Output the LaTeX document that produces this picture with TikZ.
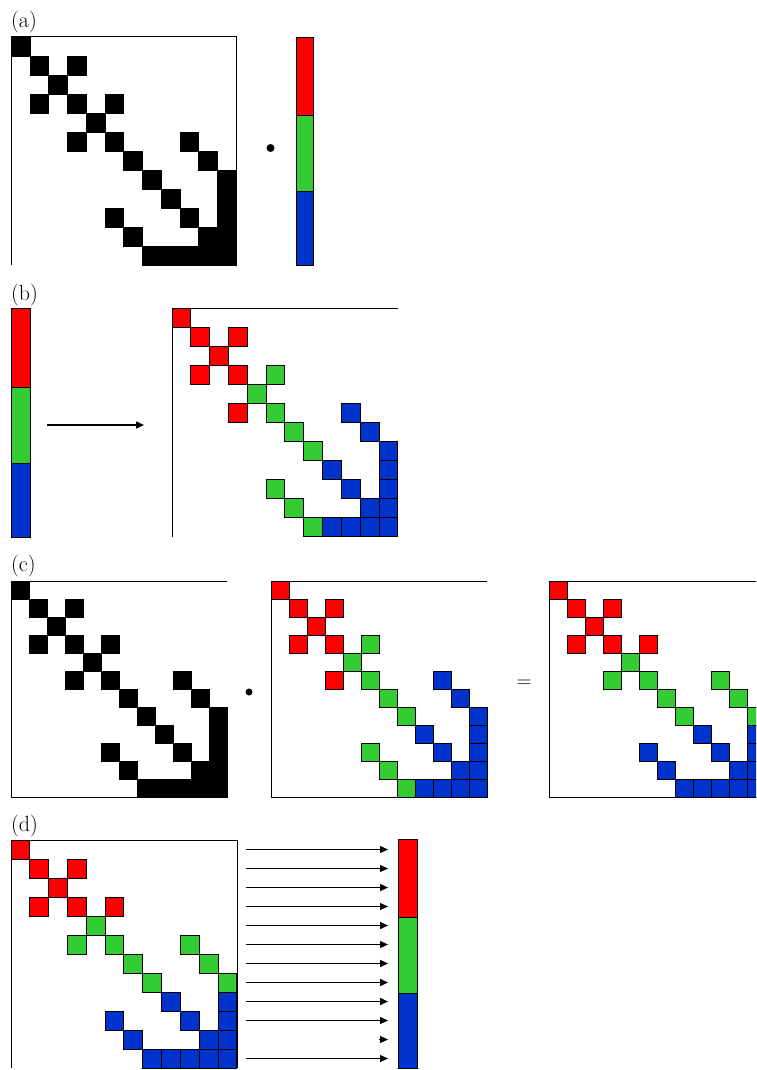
\documentclass[tikz,border=0pt]{standalone}
\usetikzlibrary{arrows.meta}
\definecolor{grp0}{RGB}{255,0,0}
\definecolor{grp1}{RGB}{51,204,51}
\definecolor{grp2}{RGB}{0,51,204}
\def\entries{0/0,1/1,1/3,2/2,3/1,3/3,3/5,4/4,5/3,5/5,5/9,6/6,6/10,7/7,7/11,8/8,8/11,9/5,9/9,9/11,10/6,10/10,10/11,11/7,11/8,11/9,11/10,11/11}
% #1 x0, #2 y0, #3 cell width, #4 cell height, #5 mode: 0 black, 1 by column, 2 by row
\newcommand\spmat[5]{%
  \foreach \r/\c in \entries {%
    \pgfmathtruncatemacro\g{#5==1 ? floor(\c/4) : (#5==2 ? floor(\r/4) : 3)}%
    \ifnum\g=3
      \path[fill=black,draw=black,line width=0.3pt] (#1+\c*#3,#2+\r*#4) rectangle ++(#3,#4);
    \else
      \path[fill=grp\g,draw=black,line width=1pt] (#1+\c*#3,#2+\r*#4) rectangle ++(#3,#4);
    \fi
  }}
\begin{document}
\begin{tikzpicture}[x=1pt,y=-1pt,
  lab/.style={font=\fontsize{22}{26}\selectfont, inner sep=0pt, anchor=base west},
  frame/.style={line width=1pt},
  vseg/.style={draw=black, line width=0.5pt, inner sep=0pt, minimum width=#1},
  arr/.style={-{Triangle[length=8pt,width=7pt]}},
  dot/.style={circle, fill=black, inner sep=0pt}]
\useasboundingbox[fill=white] (0,0) rectangle (756,1070);

% ---------- (a)
\node[lab] (la) at (11,27.5) {(a)};
\spmat{11}{37}{18.75}{19}{0}
\draw[frame] (11,265) -- (11,37) -- (236,37) -- (236,265);
\node[dot, minimum size=8pt] (dota) at (270.5,148) {};
\node[vseg=17pt, fill=grp0, minimum height=78pt] (va1) at (304.5,76) {};
\node[vseg=17pt, fill=grp1, minimum height=76pt] (va2) at (304.5,153) {};
\node[vseg=17pt, fill=grp2, minimum height=74pt] (va3) at (304.5,228) {};

% ---------- (b)
\node[lab] (lb) at (11,300.5) {(b)};
\node[vseg=19pt, fill=grp0, minimum height=79pt] (vb1) at (20.5,347.5) {};
\node[vseg=19pt, fill=grp1, minimum height=76pt] (vb2) at (20.5,425) {};
\node[vseg=19pt, fill=grp2, minimum height=74pt] (vb3) at (20.5,500) {};
\coordinate (bs) at (47,425);
\coordinate (be) at (144,425);
\draw[arr, line width=1.5pt] (bs) -- (be);
\spmat{172}{308}{18.83}{19.08}{1}
\draw[frame] (172,537) -- (172,308) -- (398,308);

% ---------- (c)
\node[lab] (lc) at (11,571.5) {(c)};
\spmat{11}{581}{18}{18}{0}
\draw[frame] (227,581) -- (11,581) -- (11,797) -- (227,797);
\node[dot, minimum size=7pt] (dotc) at (249,692) {};
\spmat{271}{581}{18}{18}{1}
\draw[frame] (487,581) -- (271,581) -- (271,797) -- (487,797);
\node[font=\fontsize{20}{24}\selectfont, inner sep=0pt] (eq) at (524,684) {$=$};
\begin{scope}
  \clip (540,570) rectangle (756,805);
  \spmat{549}{581}{18}{18}{2}
  \draw[frame] (770,581) -- (549,581) -- (549,797) -- (770,797);
\end{scope}

% ---------- (d)
\node[lab] (ld) at (11,831.5) {(d)};
\spmat{11}{840}{18.83}{19}{2}
\draw[frame] (11,1068) -- (11,840) -- (237,840) -- (237,1068);
\foreach \i/\w in {0/0.9,1/0.9,2/1.9,3/0.9,4/1.5,5/0.9,6/1.8,7/1.8,8/1.8,9/0.9,11/1.2} {
  \coordinate (ds\i) at (246,849.5+19*\i);
  \coordinate (de\i) at (388,849.5+19*\i);
  \draw[arr, line width=\w pt] (ds\i) -- (de\i);
}
\coordinate (ds10) at (379,1039.5);
\coordinate (de10) at (388,1039.5);
\draw[arr, line width=0.9pt] (ds10) -- (de10);
\node[vseg=19pt, fill=grp0, minimum height=78pt] (vd1) at (407.5,878) {};
\node[vseg=19pt, fill=grp1, minimum height=76pt] (vd2) at (407.5,955) {};
\node[vseg=19pt, fill=grp2, minimum height=75pt] (vd3) at (407.5,1030.5) {};
\end{tikzpicture}
\end{document}
